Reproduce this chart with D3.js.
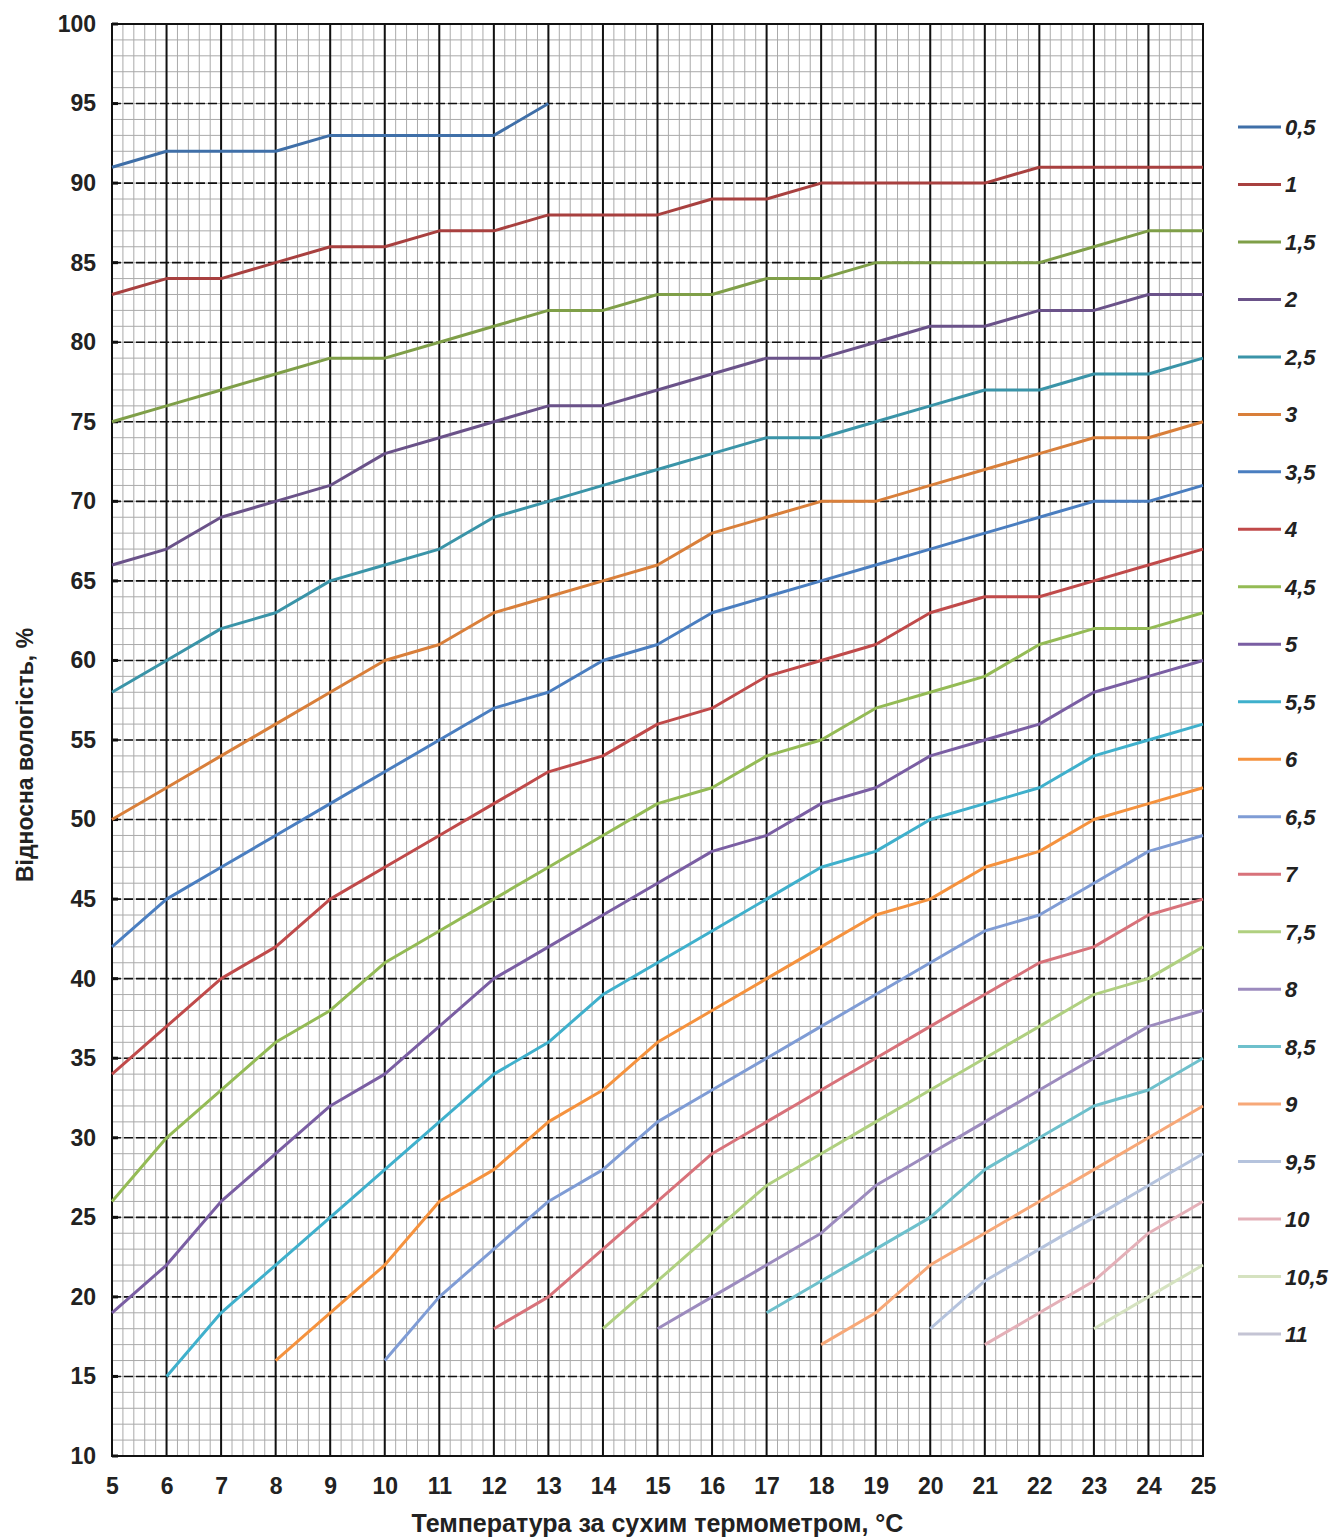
<!DOCTYPE html>
<html>
<head>
<meta charset="utf-8">
<script src="https://cdn.jsdelivr.net/npm/d3@7"></script>
<style>
  body { margin: 0; background: #fff; }
  text { font-family: "Liberation Sans", Arial, sans-serif; }
</style>
</head>
<body>
<script>
// psychrometric difference (dry - wet bulb), one line each
const seriesNames = ["0,5", "1", "1,5", "2", "2,5", "3", "3,5", "4", "4,5", "5", "5,5",
  "6", "6,5", "7", "7,5", "8", "8,5", "9", "9,5", "10", "10,5", "11"];

// first temperature of each line (all lines run to 25 except 0,5)
const seriesStart = [5, 5, 5, 5, 5, 5, 5, 5, 5, 5, 6, 8, 10, 12, 14, 15, 17, 18, 20, 21, 23, 25];

const seriesValues = [
  [91, 92, 92, 92, 93, 93, 93, 93, 95],
  [83, 84, 84, 85, 86, 86, 87, 87, 88, 88, 88, 89, 89, 90, 90, 90, 90, 91, 91, 91, 91],
  [75, 76, 77, 78, 79, 79, 80, 81, 82, 82, 83, 83, 84, 84, 85, 85, 85, 85, 86, 87, 87],
  [66, 67, 69, 70, 71, 73, 74, 75, 76, 76, 77, 78, 79, 79, 80, 81, 81, 82, 82, 83, 83],
  [58, 60, 62, 63, 65, 66, 67, 69, 70, 71, 72, 73, 74, 74, 75, 76, 77, 77, 78, 78, 79],
  [50, 52, 54, 56, 58, 60, 61, 63, 64, 65, 66, 68, 69, 70, 70, 71, 72, 73, 74, 74, 75],
  [42, 45, 47, 49, 51, 53, 55, 57, 58, 60, 61, 63, 64, 65, 66, 67, 68, 69, 70, 70, 71],
  [34, 37, 40, 42, 45, 47, 49, 51, 53, 54, 56, 57, 59, 60, 61, 63, 64, 64, 65, 66, 67],
  [26, 30, 33, 36, 38, 41, 43, 45, 47, 49, 51, 52, 54, 55, 57, 58, 59, 61, 62, 62, 63],
  [19, 22, 26, 29, 32, 34, 37, 40, 42, 44, 46, 48, 49, 51, 52, 54, 55, 56, 58, 59, 60],
  [15, 19, 22, 25, 28, 31, 34, 36, 39, 41, 43, 45, 47, 48, 50, 51, 52, 54, 55, 56],
  [16, 19, 22, 26, 28, 31, 33, 36, 38, 40, 42, 44, 45, 47, 48, 50, 51, 52],
  [16, 20, 23, 26, 28, 31, 33, 35, 37, 39, 41, 43, 44, 46, 48, 49],
  [18, 20, 23, 26, 29, 31, 33, 35, 37, 39, 41, 42, 44, 45],
  [18, 21, 24, 27, 29, 31, 33, 35, 37, 39, 40, 42],
  [18, 20, 22, 24, 27, 29, 31, 33, 35, 37, 38],
  [19, 21, 23, 25, 28, 30, 32, 33, 35],
  [17, 19, 22, 24, 26, 28, 30, 32],
  [18, 21, 23, 25, 27, 29],
  [17, 19, 21, 24, 26],
  [18, 20, 22],
  []
];

const seriesColors = ["#3f6fa8", "#a8403f", "#7f9f48", "#6a5289", "#3a94a8", "#d97f3a",
  "#4a7ec0", "#c04a4a", "#94bb55", "#7a5ea3", "#3fb0cc", "#f5923e",
  "#7f9cd5", "#d8727a", "#b0d080", "#9c8bbe", "#6ec0cc", "#f7a878",
  "#b5c3dd", "#e4b0b8", "#d5e2c0", "#c4c4d4"];

const xTicks = d3.range(5, 26);
const yTicks = d3.range(10, 101, 5);

const width = 1341, height = 1539;
const margin = { top: 24, right: 138, bottom: 83, left: 112 };

const svg = d3.select("body").append("svg")
  .attr("width", width)
  .attr("height", height);

const x = d3.scaleLinear().domain([5, 25]).range([margin.left, width - margin.right]);
const y = d3.scaleLinear().domain([10, 100]).range([height - margin.bottom, margin.top]);

const grid = svg.append("g");

// minor grid
grid.selectAll(".vminor")
  .data(d3.range(5, 25.001, 0.2))
  .enter().append("line")
  .attr("x1", d => x(d)).attr("x2", d => x(d))
  .attr("y1", y(10)).attr("y2", y(100))
  .attr("stroke", "#aaa").attr("stroke-width", 1);

grid.selectAll(".hminor")
  .data(d3.range(10, 101, 1))
  .enter().append("line")
  .attr("x1", x(5)).attr("x2", x(25))
  .attr("y1", d => y(d)).attr("y2", d => y(d))
  .attr("stroke", "#aaa").attr("stroke-width", 1);

// major grid
grid.selectAll(".hmajor")
  .data(yTicks)
  .enter().append("line")
  .attr("x1", x(5)).attr("x2", x(25))
  .attr("y1", d => y(d)).attr("y2", d => y(d))
  .attr("stroke", "#111").attr("stroke-width", 1.6)
  .attr("stroke-dasharray", "9,3");

grid.selectAll(".vmajor")
  .data(xTicks)
  .enter().append("line")
  .attr("x1", d => x(d)).attr("x2", d => x(d))
  .attr("y1", y(10)).attr("y2", y(100))
  .attr("stroke", "#111").attr("stroke-width", 2);

// plot frame
svg.append("rect")
  .attr("x", x(5)).attr("y", y(100))
  .attr("width", x(25) - x(5)).attr("height", y(10) - y(100))
  .attr("fill", "none").attr("stroke", "#111").attr("stroke-width", 2);

// axes
const yAxis = svg.append("g")
  .attr("transform", "translate(" + x(5) + ",0)")
  .call(d3.axisLeft(y).tickValues(yTicks).tickSize(0).tickPadding(16));

const xAxis = svg.append("g")
  .attr("transform", "translate(0," + y(10) + ")")
  .call(d3.axisBottom(x).tickValues(xTicks).tickSize(0).tickPadding(22));

[xAxis, yAxis].forEach(a => {
  a.select(".domain").remove();
  a.selectAll("text")
    .attr("font-family", "'Liberation Sans', Arial, sans-serif")
    .attr("font-size", 23)
    .attr("font-weight", "bold")
    .attr("fill", "#222");
});

// short ticks inside the left axis
svg.selectAll(".ytick")
  .data(yTicks)
  .enter().append("line")
  .attr("x1", x(5)).attr("x2", x(5) + 6)
  .attr("y1", d => y(d)).attr("y2", d => y(d))
  .attr("stroke", "#111").attr("stroke-width", 3);

// lines
const line = d3.line()
  .x(d => x(d[0]))
  .y(d => y(d[1]));

seriesValues.forEach((vals, i) => {
  const pts = vals.map((v, j) => [seriesStart[i] + j, v]);
  if (pts.length < 2) return;
  svg.append("path")
    .datum(pts)
    .attr("d", line)
    .attr("fill", "none")
    .attr("stroke", seriesColors[i])
    .attr("stroke-width", 3)
    .attr("stroke-linejoin", "round");
});

// legend
const legend = svg.append("g");
const legY = d3.scalePoint().domain(seriesNames).range([127, 1334]);

seriesNames.forEach((name, i) => {
  const g = legend.append("g").attr("transform", "translate(0," + legY(name) + ")");
  g.append("line")
    .attr("x1", 1238).attr("x2", 1281)
    .attr("stroke", seriesColors[i]).attr("stroke-width", 3);
  g.append("text")
    .attr("x", 1285).attr("y", 8)
    .attr("font-size", 22)
    .attr("font-weight", "bold")
    .attr("font-style", "italic")
    .attr("fill", "#222")
    .text(name);
});

// axis titles
svg.append("text")
  .attr("x", (x(5) + x(25)) / 2).attr("y", 1532)
  .attr("text-anchor", "middle")
  .attr("font-size", 25).attr("font-weight", "bold").attr("fill", "#222")
  .text("Температура за сухим термометром, °С");

svg.append("text")
  .attr("transform", "translate(33,755) rotate(-90)")
  .attr("text-anchor", "middle")
  .attr("font-size", 23).attr("font-weight", "bold").attr("fill", "#222")
  .text("Відносна вологість, %");
</script>
</body>
</html>
